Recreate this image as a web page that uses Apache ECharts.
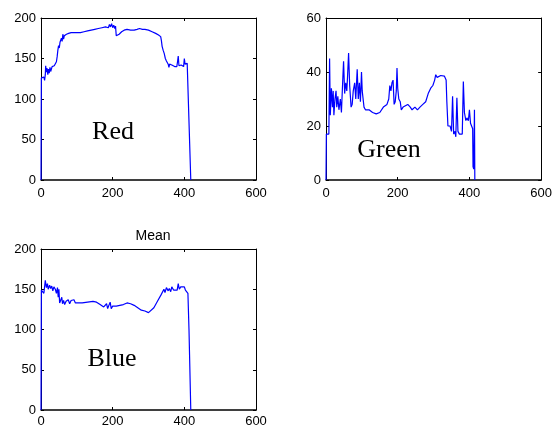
<!DOCTYPE html>
<html>
<head>
<meta charset="utf-8">
<script src="https://cdn.jsdelivr.net/npm/echarts@6/dist/echarts.min.js"></script>
<style>
  html, body { margin: 0; padding: 0; background: #fff; }
  #chart { width: 555px; height: 430px; }
</style>
</head>
<body>
<div id="chart"></div>
<script>
// Mean channel profiles along the image columns
const redX  = [0,1,5,8,10,12,13,15,17,19,21,23,25,27,29,31,34,37,40,43,45,47,49,51,53,55,57,59,61,63,65,68,71,74,77,80,84,88,92,96,100,110,120,130,140,150,160,170,180,185,188,191,194,197,200,203,206,208,210,213,218,225,232,240,250,260,268,275,283,290,300,310,320,328,334,336,338,341,344,347,350,353,355,357,359,362,365,370,373,376,379,381,383,385,388,391,394,396,398,400,402,405,408,411,418];
const redY  = [0,126,125,127,123,130,141,133,138,130,137,132,139,134,136,140,138,141,140,146,152,160,166,163,170,168,175,171,180,174,178,177,180,178,181,179,182,180,182,181,182,182,183,184,185,186,187,188,189,190,188,192,189,193,188,191,187,190,178,177,180,183,185,186,185,185,186,187,186,186,185,183,181,179,177,172,165,160,156,150,147,146,143,139,143,141,142,142,140,141,140,146,153,141,139,142,140,144,140,150,143,145,144,143,0];

const greenX = [0,1,8,10,12,15,18,20,22,25,28,30,33,36,40,43,47,49,52,55,58,60,63,66,70,73,76,80,83,87,90,93,96,99,101,104,106,110,120,130,140,150,160,170,175,178,181,184,187,190,193,196,198,200,203,207,210,215,220,228,235,240,248,255,262,270,278,285,292,298,303,306,310,315,320,330,335,337,340,343,346,350,353,356,360,362,365,368,372,375,380,383,386,390,393,397,400,403,406,409,410,412,414,415];
const greenY = [0,17,17,45,24,34,27,33,24,30,33,27,31,26,30,25,38,44,32,36,33,38,47,35,27,28,33,36,30,41,30,36,29,40,33,33,27,26,26,25,24.5,25,27,28,30,35,33,36,37,28,29,33,41.5,34,30,29,26,27,26.5,28,27,26,27,26,27,28,29,32,34,35,37,39,38,38,38.7,38.5,37,29,20,20.5,20,18,31,17,18,16,30.5,18,17,16.5,17,36.5,25,22,23,22,26,21,20,19,5,4,26,0];

const blueX = [0,1,5,8,12,15,18,20,24,27,30,33,36,40,43,46,48,50,52,55,58,60,63,66,70,73,76,80,84,88,92,96,100,105,115,130,145,155,165,175,180,183,186,190,193,196,200,210,220,230,240,250,260,270,280,290,300,305,315,325,335,340,343,346,350,355,358,362,365,370,375,380,383,386,390,395,400,403,407,410,413,418];
const blueY = [0,149,150,145,161,152,157,150,155,151,154,148,153,150,145,152,140,150,133,131,140,132,136,131,135,133,137,132,136,134,137,133,135,133,133,134,135,134,131,128,126,132,126,128,134,126,129,129,130,131,133,132,130,127,124,123,121,120,127,135,143,145,150,146,152,148,151,147,153,149,150,149,157,150,153,152,153,149,147,145,100,0];

// Axis ticks / limits
const xTicks = { min: 0, max: 600, interval: 200 };
const rgbTicks = { min: 0, max: 200, interval: 50 };
const greenTicks = { min: 0, max: 60, interval: 20 };

const zip = (xs, ys) => xs.map((x, i) => [x, ys[i]]);

const grids = [
  { left: 41, top: 18, width: 215, height: 162 },
  { left: 326, top: 18, width: 216, height: 162 },
  { left: 41, top: 249, width: 215, height: 161 }
];
const yScales = [rgbTicks, greenTicks, rgbTicks];
const lineData = [zip(redX, redY), zip(greenX, greenY), zip(blueX, blueY)];

const labelFont = { color: '#000', fontFamily: 'Liberation Sans, Arial', fontSize: 13 };
const axisLine = { show: true, onZero: false, lineStyle: { color: '#000', width: 1 } };
const tick = { show: true, inside: true, length: 3, lineStyle: { color: '#000' } };

const xAxis = [], yAxis = [], series = [];
grids.forEach((g, i) => {
  xAxis.push(Object.assign({ type: 'value', gridIndex: i, position: 'bottom',
    axisLine: { show: true, onZero: false, lineStyle: { color: '#000', width: 1.5 } },
    axisTick: tick, splitLine: { show: false },
    axisLabel: Object.assign({ margin: i === 2 ? 5 : 7 }, labelFont) }, xTicks));
  xAxis.push(Object.assign({ type: 'value', gridIndex: i, position: 'top',
    axisLine, axisTick: tick, splitLine: { show: false }, axisLabel: { show: false } }, xTicks));
  yAxis.push(Object.assign({ type: 'value', gridIndex: i, position: 'left',
    axisLine, axisTick: tick, splitLine: { show: false },
    axisLabel: Object.assign({ margin: 5 }, labelFont) }, yScales[i]));
  yAxis.push(Object.assign({ type: 'value', gridIndex: i, position: 'right',
    axisLine, axisTick: tick, splitLine: { show: false }, axisLabel: { show: false } }, yScales[i]));
  series.push({
    type: 'line', xAxisIndex: 2 * i, yAxisIndex: 2 * i,
    data: lineData[i], showSymbol: false, animation: false,
    lineStyle: { color: '#0000ff', width: 1.2 }
  });
});

const serif = '26px "Liberation Serif", "Times New Roman", serif';
const chart = echarts.init(document.getElementById('chart'), null, { renderer: 'canvas' });
chart.setOption({
  animation: false,
  backgroundColor: '#fff',
  title: {
    text: 'Mean', left: 148, top: 224, textAlign: 'center',
    textStyle: { fontFamily: 'Liberation Sans, Arial', fontSize: 14, fontWeight: 'normal', color: '#000' }
  },
  grid: grids,
  xAxis, yAxis, series,
  graphic: [
    { type: 'text', style: { text: 'Red', x: 113, y: 132, font: serif, fill: '#000', textAlign: 'center', textVerticalAlign: 'middle' } },
    { type: 'text', style: { text: 'Green', x: 389, y: 150, font: serif, fill: '#000', textAlign: 'center', textVerticalAlign: 'middle' } },
    { type: 'text', style: { text: 'Blue', x: 112, y: 359, font: serif, fill: '#000', textAlign: 'center', textVerticalAlign: 'middle' } }
  ]
});
</script>
</body>
</html>
